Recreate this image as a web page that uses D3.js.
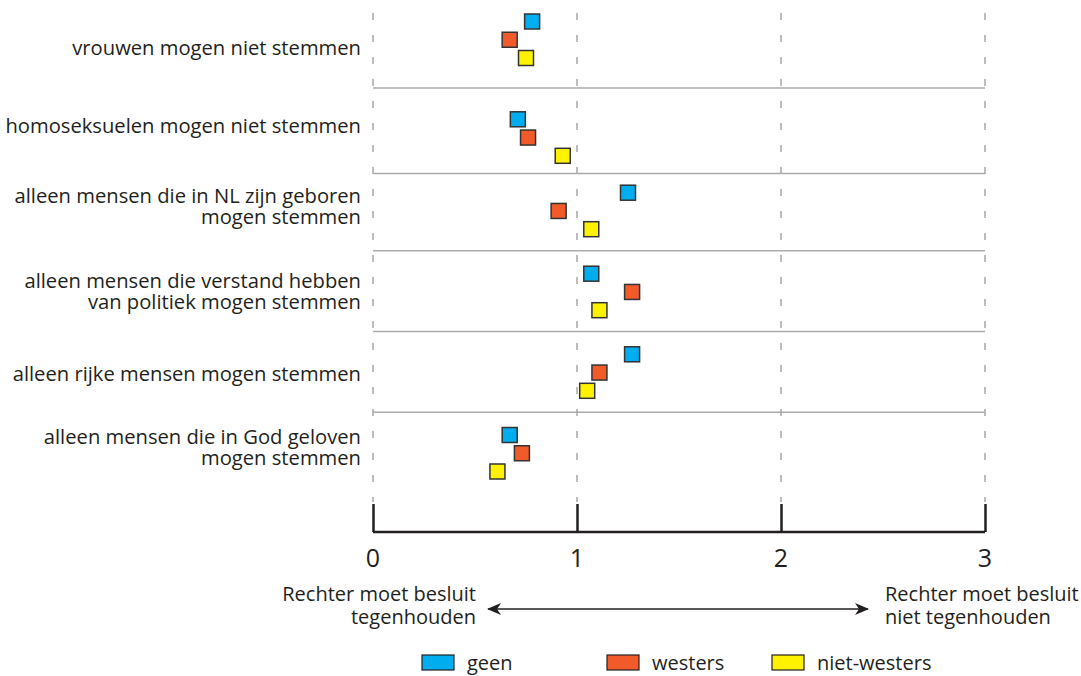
<!DOCTYPE html>
<html><head><meta charset="utf-8">
<script src="https://cdn.jsdelivr.net/npm/d3@7"></script>
<style>
html,body{margin:0;padding:0;background:#fff;}
svg{display:block;font-family:"Open Sans",sans-serif;}
</style></head>
<body>
<svg id="chart" width="1081" height="676"></svg>
<script>
// ---- data ----
const categories = [
  ["vrouwen mogen niet stemmen"],
  ["homoseksuelen mogen niet stemmen"],
  ["alleen mensen die in NL zijn geboren", "mogen stemmen"],
  ["alleen mensen die verstand hebben", "van politiek mogen stemmen"],
  ["alleen rijke mensen mogen stemmen"],
  ["alleen mensen die in God geloven", "mogen stemmen"]
];
const series = ["geen", "westers", "niet-westers"];
const geen        = [0.78, 0.71, 1.25, 1.07, 1.27, 0.67];
const westers     = [0.67, 0.76, 0.91, 1.27, 1.11, 0.73];
const nietWesters = [0.75, 0.93, 1.07, 1.11, 1.05, 0.61];
const xTicks = [0, 1, 2, 3];
const leftNote = ["Rechter moet besluit", "tegenhouden"];
const rightNote = ["Rechter moet besluit", "niet tegenhouden"];

// ---- layout ----
const colors = {"geen": "#00aeef", "westers": "#f15a29", "niet-westers": "#fff200"};
const ink = "#231f20";
const catKeys = categories.map(c => c.join(" "));
const rowCenters = [40.5, 138.3, 211.7, 292.7, 373.3, 454];
const labelDy = [14.5, -5, -9, -5, 8, -10.5];
const svg = d3.select("#chart");

const x = d3.scaleLinear().domain([0, 3]).range([373, 985]);
const y = d3.scaleOrdinal().domain(catKeys).range(rowCenters);
const yOff = d3.scalePoint().domain(series).range([-19, 17.5]);

// gridlines
svg.append("g").selectAll("line").data(xTicks).join("line")
  .attr("x1", d => x(d)).attr("x2", d => x(d))
  .attr("y1", 13).attr("y2", 502)
  .attr("stroke", "#bdbdbd").attr("stroke-width", 2)
  .attr("stroke-dasharray", "7,15");

// row separators
const seps = d3.pairs(rowCenters).map(([a, b]) => (a + b) / 2 - 1.5);
svg.append("g").selectAll("line").data(seps).join("line")
  .attr("x1", x(0)).attr("x2", x(3))
  .attr("y1", d => d).attr("y2", d => d)
  .attr("stroke", "#ababab").attr("stroke-width", 1.5);

// axis
const axis = d3.axisTop(x).tickValues(xTicks).tickSize(28).tickFormat("");
const ax = svg.append("g").attr("transform", "translate(0,532)").call(axis);
ax.select(".domain").attr("stroke", ink).attr("stroke-width", 2.5).attr("d", `M${x(0)},0H${x(3)}`);
ax.selectAll(".tick line").attr("stroke", ink).attr("stroke-width", 2.5);
svg.append("g").selectAll("text").data(xTicks).join("text")
  .attr("x", d => x(d)).attr("y", 567)
  .attr("text-anchor", "middle").attr("font-size", 25).attr("fill", ink)
  .text(d => d);

// category labels
const lab = svg.append("g").selectAll("text").data(categories).join("text")
  .attr("text-anchor", "end").attr("font-size", 20.2).attr("fill", ink)
  .attr("x", 361)
  .attr("y", (d, i) => y(catKeys[i]) + labelDy[i]);
lab.selectAll("tspan").data(d => d).join("tspan")
  .attr("x", 361).attr("dy", (d, i) => i ? 21 : 0).text(d => d);

// markers
const valuesBySeries = {"geen": geen, "westers": westers, "niet-westers": nietWesters};
const pts = [];
series.forEach(s => valuesBySeries[s].forEach((v, i) => pts.push({s, v, c: catKeys[i]})));
const sz = 15;
svg.append("g").selectAll("rect").data(pts).join("rect")
  .attr("x", d => x(d.v) - sz / 2)
  .attr("y", d => y(d.c) + yOff(d.s) - sz / 2)
  .attr("width", sz).attr("height", sz)
  .attr("fill", d => colors[d.s])
  .attr("stroke", "#333").attr("stroke-width", 1.5);

// arrow + notes
const defs = svg.append("defs");
defs.append("marker").attr("id", "ah").attr("viewBox", "0 0 14 12")
  .attr("refX", 13).attr("refY", 6).attr("markerWidth", 14).attr("markerHeight", 12)
  .attr("markerUnits", "userSpaceOnUse").attr("orient", "auto-start-reverse")
  .append("path").attr("d", "M0,0 L14,6 L0,12 L4,6 Z").attr("fill", ink);
svg.append("line").attr("x1", 488).attr("x2", 868).attr("y1", 609).attr("y2", 609)
  .attr("stroke", ink).attr("stroke-width", 1.6)
  .attr("marker-start", "url(#ah)").attr("marker-end", "url(#ah)");
const ln = svg.append("text").attr("text-anchor", "end").attr("font-size", 20).attr("fill", ink).attr("y", 601);
ln.selectAll("tspan").data(leftNote).join("tspan").attr("x", 476).attr("dy", (d, i) => i ? 23 : 0).text(d => d);
const rn = svg.append("text").attr("text-anchor", "start").attr("font-size", 20).attr("fill", ink).attr("y", 601);
rn.selectAll("tspan").data(rightNote).join("tspan").attr("x", 885).attr("dy", (d, i) => i ? 23 : 0).text(d => d);

// legend
const lg = svg.append("g").selectAll("g").data(series).join("g")
  .attr("transform", (d, i) => `translate(${[422, 607, 772][i]},655)`);
lg.append("rect").attr("width", 32).attr("height", 15)
  .attr("fill", d => colors[d]).attr("stroke", ink).attr("stroke-width", 1.2);
lg.append("text").attr("x", 45).attr("y", 15).attr("font-size", 20).attr("fill", ink).text(d => d);
</script>
</body></html>
